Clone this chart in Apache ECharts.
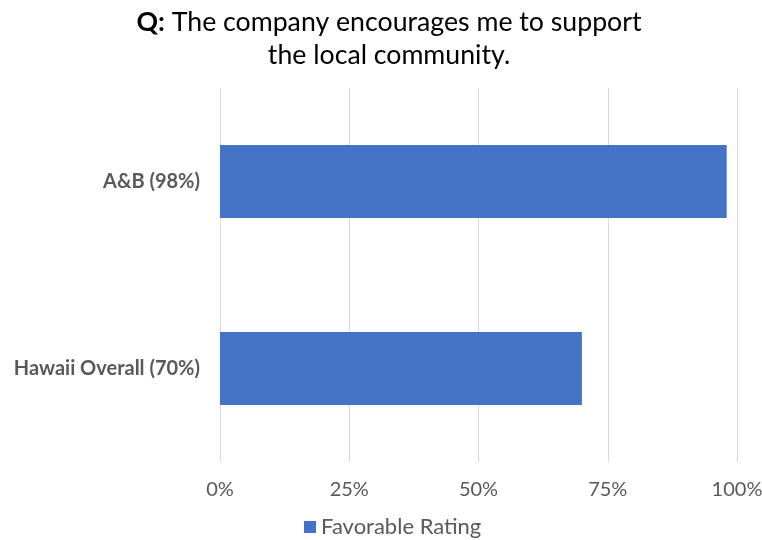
<!DOCTYPE html>
<html><head><meta charset="utf-8">
<script src="https://cdn.jsdelivr.net/npm/echarts@6/dist/echarts.min.js"></script>
<style>html,body{margin:0;padding:0;background:#fff}#c{width:762px;height:540px}</style>
</head><body><div id="c"></div>
<script>
const categories = ['Hawaii Overall (70%)', 'A&B (98%)'];
const favorable = [70, 98];
const tickLabels = ['0%', '25%', '50%', '75%', '100%'];
const seriesName = 'Favorable Rating';
const FONT = 'Lato, "Noto Sans", sans-serif';
const chart = echarts.init(document.getElementById('c'));
chart.setOption({
  animation: false,
  title: {
    text: '{b|Q:} The company encourages me to support\nthe local community.',
    left: 384, textAlign: 'center', top: 1,
    textStyle: {
      fontFamily: FONT, fontSize: 26.7, fontWeight: 'normal', color: '#000', lineHeight: 33,
      rich: { b: { fontFamily: FONT, fontSize: 26.7, fontWeight: 'bold', color: '#000', lineHeight: 33 } }
    }
  },
  legend: {
    top: 511, left: 299,
    icon: 'rect', itemWidth: 12, itemHeight: 12, itemGap: 8,
    textStyle: { fontFamily: FONT, fontSize: 22, color: '#595959' },
    data: [seriesName]
  },
  grid: { left: 220, right: 25, top: 88, bottom: 78, containLabel: false, outerBoundsMode: 'none' },
  xAxis: {
    type: 'value', min: 0, max: 100, interval: 25,
    axisLine: { show: false }, axisTick: { show: false },
    splitLine: { lineStyle: { color: '#d9d9d9', width: 1 } },
    axisLabel: {
      margin: 18, fontFamily: FONT, fontSize: 20, color: '#595959',
      formatter: v => tickLabels[Math.round(v / 25)]
    }
  },
  yAxis: {
    type: 'category', data: categories,
    axisLine: { show: false }, axisTick: { show: false },
    axisLabel: { margin: 20, fontFamily: FONT, fontSize: 20, fontWeight: 'bold', color: '#595959' }
  },
  series: [{
    name: seriesName, type: 'bar', data: favorable, barWidth: '39%',
    itemStyle: { color: '#4472c4' }
  }]
});
</script></body></html>
